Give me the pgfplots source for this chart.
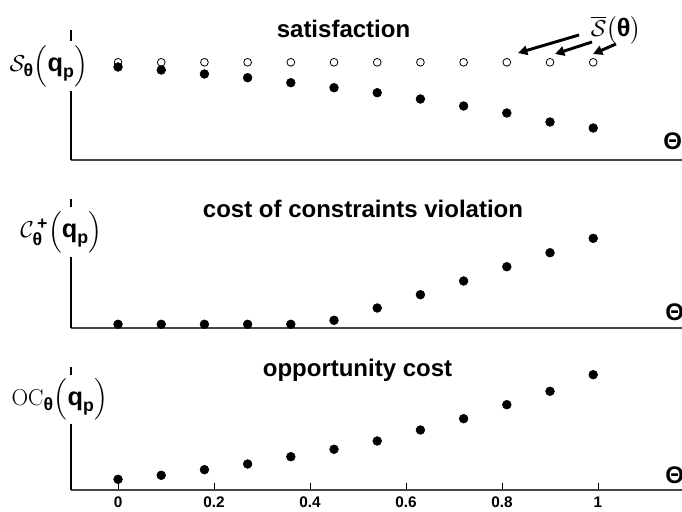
\documentclass[border=0pt]{standalone}
\usepackage{amsmath}
\usepackage[no-math]{fontspec}
\setmainfont{Liberation Sans}
\usepackage{pgfplots}
\pgfplotsset{compat=1.18}
\usetikzlibrary{arrows.meta}

\pgfplotsset{
  panel/.style={
    scale only axis, width=467.25pt, anchor=south west,
    xmin=-0.098, xmax=1.2, ymin=0,
    axis x line=bottom, axis y line=left,
    axis line style={-},
    x axis line style={-, draw=black!72, line width=1.5pt},
    y axis line style={-, draw=black, line width=0.9pt},
    xtick=\empty, ytick=\empty,
    clip=false,
    /pgf/number format/assume math mode=true,
  },
  filled/.style={only marks, mark=*, mark size=3.3pt, black},
  hollow/.style={only marks, mark=o, mark size=2.9pt, black, mark options={fill=white, line width=0.6pt}},
}

\begin{document}
\begin{tikzpicture}
\useasboundingbox (0,0) rectangle (511.5pt,383.25pt);
\clip (0,0) rectangle (511.5pt,383.25pt);

% ---------- top: satisfaction ----------
\begin{axis}[panel, at={(53.25pt,262.875pt)}, height=97.5pt, ymax=130]
\addplot[hollow] coordinates {
(0,98.2) (0.09,98.2) (0.18,98.2) (0.27,98.2) (0.36,98.2) (0.45,98.2)
(0.54,98.2) (0.63,98.2) (0.72,98.2) (0.81,98.2) (0.90,98.2) (0.99,98.2)};
\addplot[filled] coordinates {
(0,93.5) (0.09,90.5) (0.18,86.5) (0.27,82.8) (0.36,77.8) (0.45,72.8)
(0.54,67.8) (0.63,61.5) (0.72,54.5) (0.81,47.5) (0.90,38.5) (0.99,32.5)};
\end{axis}

% ---------- middle: cost of constraints violation ----------
\begin{axis}[panel, at={(53.25pt,137.475pt)}, height=96.5pt, ymax=128.7]
\addplot[filled] coordinates {
(0,3.4) (0.09,3.4) (0.18,3.4) (0.27,3.4) (0.36,3.4) (0.45,7.4)
(0.54,19.7) (0.63,33) (0.72,46.7) (0.81,61) (0.90,75) (0.99,89.4)};
\end{axis}

% ---------- bottom: opportunity cost ----------
\begin{axis}[panel, at={(53.25pt,15.75pt)}, height=92.5pt, ymax=123.3,
  xtick={0,0.2,0.4,0.6,0.8,1},
  tick align=inside, major tick length=5pt,
  tick style={black, line width=0.7pt},
  xticklabel style={font=\bfseries\fontsize{11.5}{13}\selectfont, yshift=-1.5pt}]
\addplot[filled] coordinates {
(0,10.7) (0.09,14.7) (0.18,20.3) (0.27,26) (0.36,33.3) (0.45,40.7)
(0.54,49) (0.63,60) (0.72,71.3) (0.81,85.3) (0.90,98.7) (0.99,115.3)};
\end{axis}

% ---------- annotations (pixel coordinates) ----------
\begin{scope}[x=0.75pt, y=-0.75pt, yshift=383.25pt]
  % titles
  \node[anchor=base, inner sep=0, font=\bfseries\fontsize{18}{20}\selectfont] at (343.5,38) {satisfaction};
  \node[anchor=base, inner sep=0, font=\bfseries\fontsize{18}{20}\selectfont] at (363,218) {cost of constraints violation};
  \node[anchor=base, inner sep=0, font=\bfseries\fontsize{18}{20}\selectfont] at (357.5,377) {opportunity cost};
  % y labels
  \node[fill=white, inner sep=3pt, font=\fontsize{19}{22}\selectfont] at (49,66)
    {$\mathcal{S}_{\text{\bfseries θ}}\Bigl(\text{\bfseries q}_{\text{\bfseries p}}\Bigr)$};
  \node[fill=white, inner sep=3pt, font=\fontsize{19}{22}\selectfont] at (61.5,232)
    {$\mathcal{C}^{\,\text{\bfseries +}}_{\text{\bfseries θ}}\Bigl(\text{\bfseries q}_{\text{\bfseries p}}\Bigr)$};
  \node[fill=white, inner sep=3pt, font=\fontsize{19}{22}\selectfont] at (60,399.5)
    {$\mathrm{OC}_{\text{\bfseries θ}}\Bigl(\text{\bfseries q}_{\text{\bfseries p}}\Bigr)$};
  % Theta at right ends
  \node[anchor=west, inner sep=0, font=\bfseries\fontsize{18}{20}\selectfont] at (663,141) {Θ};
  \node[anchor=west, inner sep=0, font=\bfseries\fontsize{18}{20}\selectfont] at (665,312) {Θ};
  \node[anchor=west, inner sep=0, font=\bfseries\fontsize{18}{20}\selectfont] at (665,475) {Θ};
  % S-bar annotation with arrows
  \node[inner sep=0, font=\fontsize{19}{22}\selectfont] at (616,30)
    {$\overline{\mathcal{S}}\bigl(\text{\bfseries θ}\bigr)$};
  \draw[line width=2.2pt, -{Triangle[length=7pt, width=7pt]}] (579,35) -- (518,53);
  \draw[line width=2.2pt, -{Triangle[length=7pt, width=7pt]}] (592,42) -- (555,54);
  \draw[line width=2.2pt, -{Triangle[length=7pt, width=7pt]}] (616,44) -- (593,54);
\end{scope}
\end{tikzpicture}
\end{document}
